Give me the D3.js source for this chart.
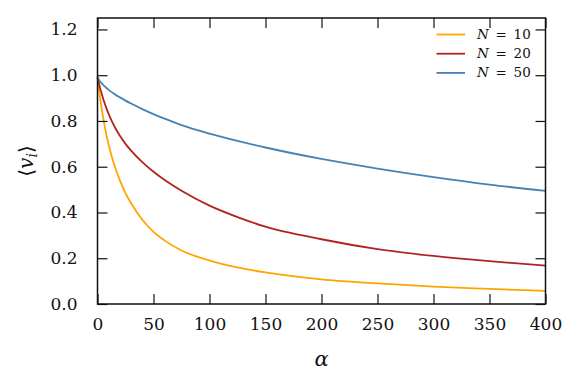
<!DOCTYPE html>
<html>
<head>
<meta charset="utf-8">
<script src="https://d3js.org/d3.v7.min.js"></script>
<style>
  body { margin: 0; background: #fff; }
  svg { display: block; }
  text { font-family: "DejaVu Serif", serif; fill: #111; }
</style>
</head>
<body>
<svg id="chart" width="581" height="391"></svg>
<script>
// values
var alpha = [0, 1, 2, 4, 6, 8, 10, 13, 16, 20, 25, 30, 40, 50, 60, 75, 100, 125, 150, 200, 250, 300, 350, 400];
var vN10 = [0.99, 0.95, 0.912, 0.845, 0.788, 0.738, 0.695, 0.64, 0.593, 0.54, 0.485, 0.44, 0.368, 0.315, 0.277, 0.234, 0.19, 0.16, 0.138, 0.108, 0.09, 0.076, 0.066, 0.057];
var vN20 = [0.99, 0.97, 0.95, 0.915, 0.883, 0.855, 0.83, 0.797, 0.768, 0.735, 0.70, 0.67, 0.62, 0.578, 0.542, 0.495, 0.43, 0.38, 0.338, 0.283, 0.24, 0.21, 0.187, 0.168];
var vN50 = [0.99, 0.982, 0.975, 0.963, 0.953, 0.944, 0.936, 0.925, 0.915, 0.903, 0.889, 0.876, 0.852, 0.83, 0.81, 0.782, 0.745, 0.713, 0.684, 0.634, 0.592, 0.555, 0.522, 0.494];
var seriesNames = ["10", "20", "50"];
var seriesColors = ["#ffa500", "#b22222", "#4682b4"];
var xTicks = [0, 50, 100, 150, 200, 250, 300, 350, 400];
var yTicks = [0.0, 0.2, 0.4, 0.6, 0.8, 1.0, 1.2];

var margin = { top: 18, right: 35.5, bottom: 87, left: 97.5 };
var W = 581, H = 391;
var width = W - margin.left - margin.right;
var height = H - margin.top - margin.bottom;

var svg = d3.select("#chart");
var g = svg.append("g").attr("transform", "translate(" + margin.left + "," + margin.top + ")");

var x = d3.scaleLinear().domain([0, 400]).range([0, width]);
var y = d3.scaleLinear().domain([0, 1.25]).range([height, 0]);

var line = d3.line()
    .x(function (d) { return x(d[0]); })
    .y(function (d) { return y(d[1]); })
    .curve(d3.curveMonotoneX);

var allSeries = [vN10, vN20, vN50];
allSeries.forEach(function (vals, i) {
    var pts = alpha.map(function (a, j) { return [a, vals[j]]; });
    g.append("path")
        .datum(pts)
        .attr("fill", "none")
        .attr("stroke", seriesColors[i])
        .attr("stroke-width", 1.8)
        .attr("d", line);
});

// axes with inward ticks on all sides
var tickLen = 10;
var axBottom = g.append("g").attr("transform", "translate(0," + height + ")")
    .call(d3.axisBottom(x).tickValues(xTicks).tickSizeInner(-tickLen).tickSizeOuter(0).tickPadding(tickLen + 4).tickFormat(d3.format("d")));
var axTop = g.append("g")
    .call(d3.axisTop(x).tickValues(xTicks).tickSizeInner(-tickLen).tickSizeOuter(0).tickFormat(""));
var axLeft = g.append("g")
    .call(d3.axisLeft(y).tickValues(yTicks).tickSizeInner(-tickLen).tickSizeOuter(0).tickPadding(tickLen + 10).tickFormat(d3.format(".1f")));
var axRight = g.append("g").attr("transform", "translate(" + width + ",0)")
    .call(d3.axisRight(y).tickValues(yTicks).tickSizeInner(-tickLen).tickSizeOuter(0).tickFormat(""));

[axBottom, axTop, axLeft, axRight].forEach(function (a) {
    a.select(".domain").remove();
    a.selectAll(".tick line").attr("stroke", "#111").attr("stroke-width", 1.2);
    a.selectAll(".tick text").attr("font-family", "DejaVu Serif").attr("font-size", 17).attr("fill", "#111");
});

g.append("rect")
    .attr("x", 0).attr("y", 0)
    .attr("width", width).attr("height", height)
    .attr("fill", "none")
    .attr("stroke", "#111")
    .attr("stroke-width", 1.5);

// axis labels
svg.append("text")
    .attr("x", margin.left + width / 2)
    .attr("y", 366)
    .attr("text-anchor", "middle")
    .attr("font-size", 21)
    .attr("font-style", "italic")
    .text("α");

var ylab = svg.append("text")
    .attr("transform", "translate(33," + (margin.top + height / 2) + ") rotate(-90)")
    .attr("text-anchor", "middle")
    .attr("font-size", 20);
ylab.append("tspan").text("⟨");
ylab.append("tspan").attr("font-style", "italic").text("v");
ylab.append("tspan").attr("font-style", "italic").attr("font-size", 14).attr("dy", 4).text("i");
ylab.append("tspan").attr("dy", -4).text("⟩");

// legend
var legend = svg.append("g").attr("transform", "translate(436.5,34.5)");
seriesNames.forEach(function (n, i) {
    var row = legend.append("g").attr("transform", "translate(0," + i * 19.2 + ")");
    row.append("line")
        .attr("x1", 0).attr("x2", 28.5)
        .attr("stroke", seriesColors[i])
        .attr("stroke-width", 1.8);
    var t = row.append("text")
        .attr("x", 40.5).attr("y", 4.5)
        .attr("font-size", 13.5);
    t.append("tspan").attr("font-style", "italic").text("N");
    t.append("tspan").text("\u2002=\u2002" + n);
});
</script>
</body>
</html>
